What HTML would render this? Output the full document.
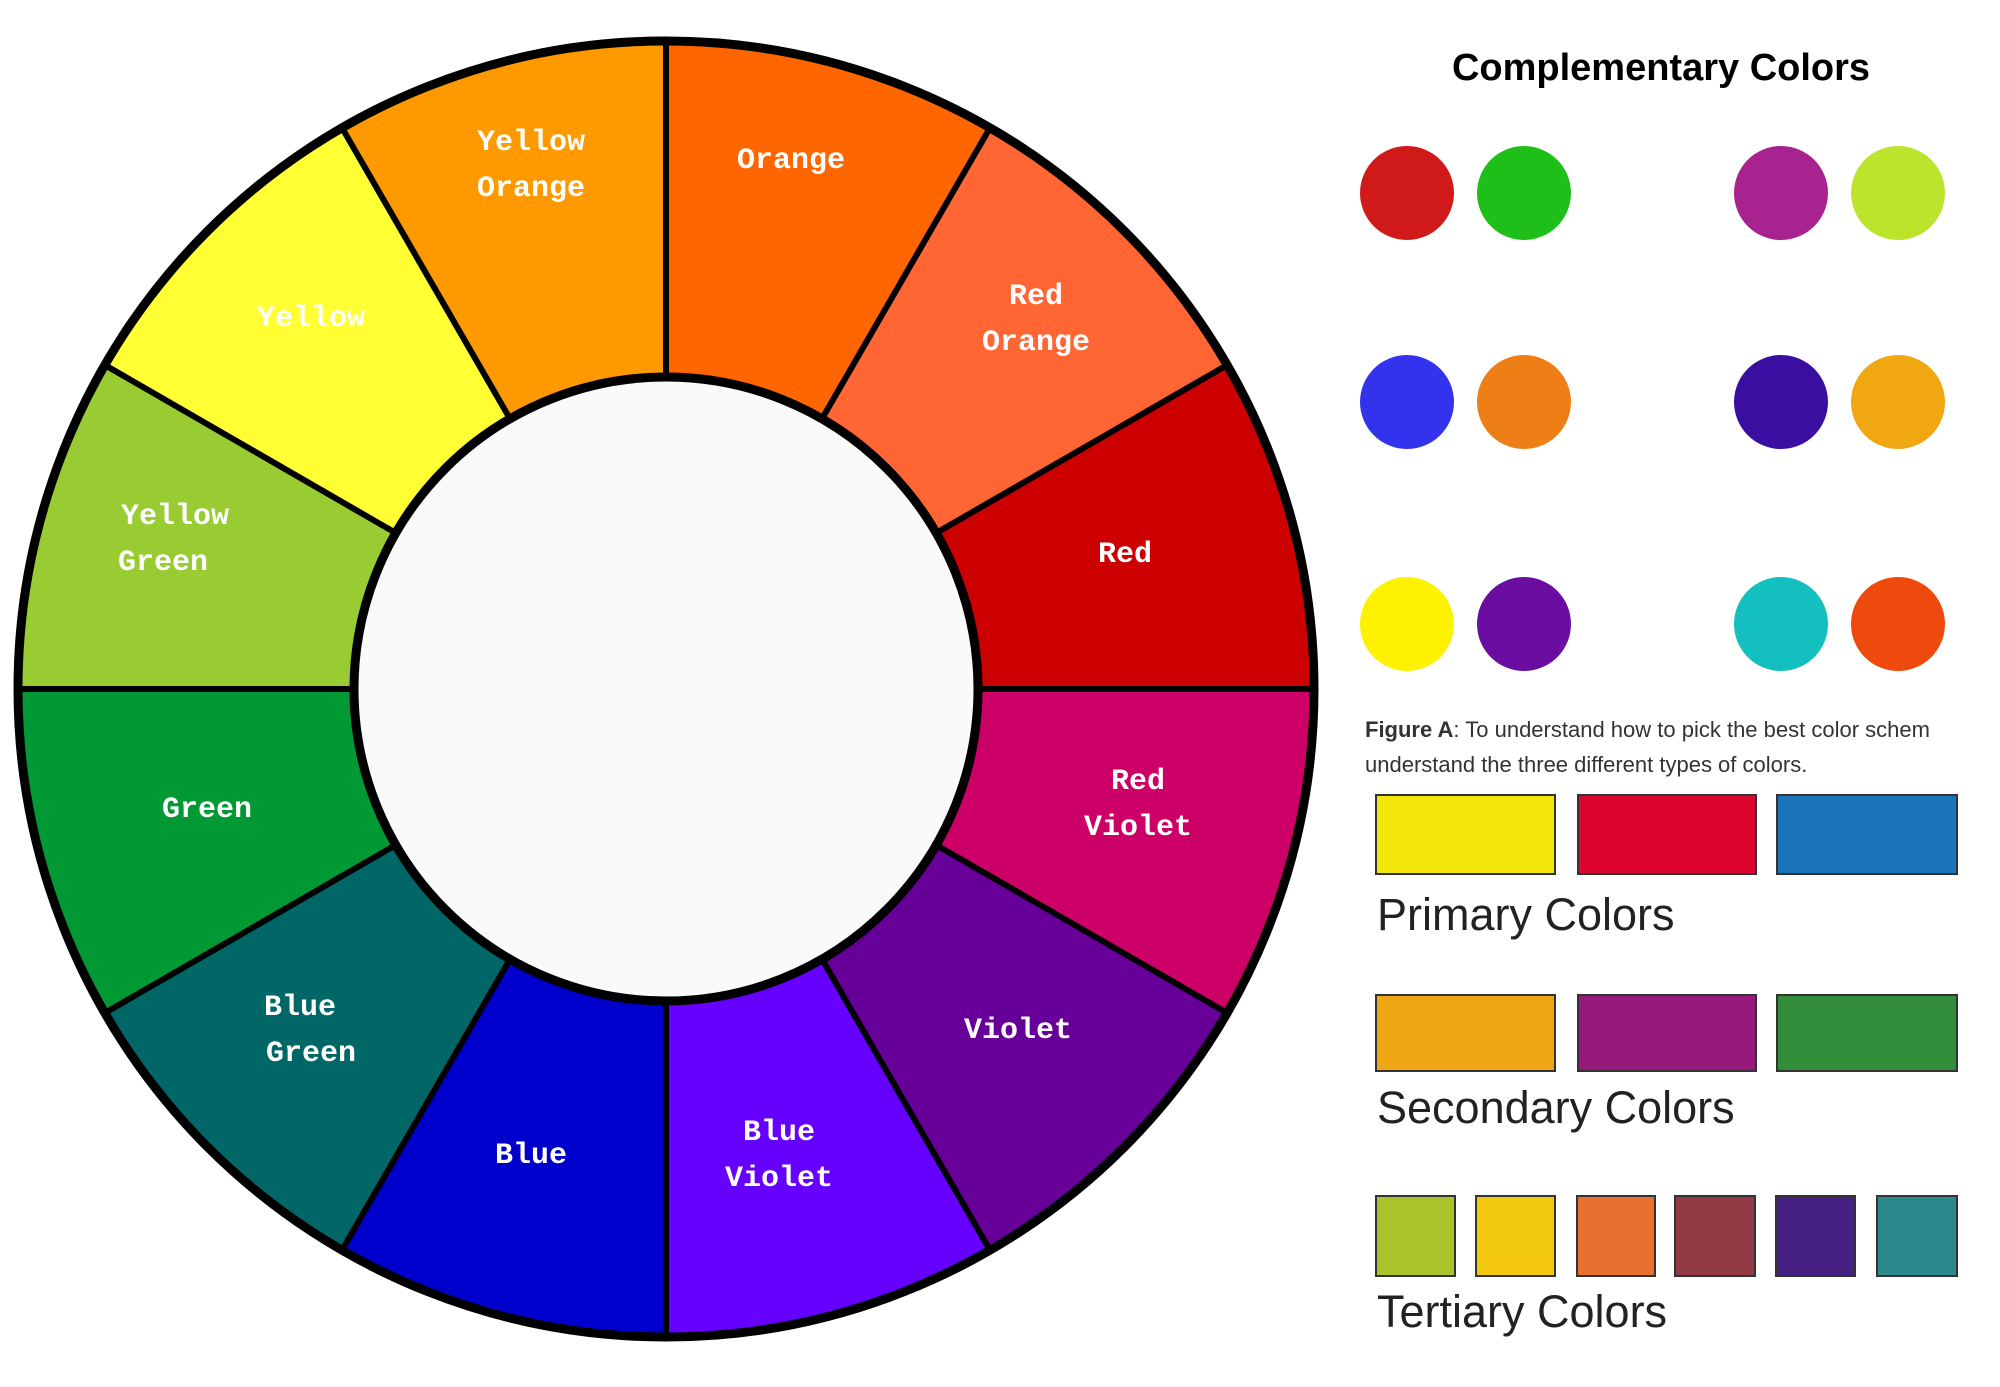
<!DOCTYPE html>
<html><head><meta charset="utf-8"><style>
html,body{margin:0;padding:0;background:#fff;}
svg{display:block;}
</style></head><body>
<svg width="2000" height="1387" viewBox="0 0 2000 1387" xmlns="http://www.w3.org/2000/svg">
<g>
<path d="M666,41 A648,648 0 0 1 990,127.8 L822,418.8 A312,312 0 0 0 666,377 Z" fill="#FF6600"/>
<path d="M990,127.8 A648,648 0 0 1 1227.2,365 L936.2,533 A312,312 0 0 0 822,418.8 Z" fill="#FF6633"/>
<path d="M1227.2,365 A648,648 0 0 1 1314,689 L978,689 A312,312 0 0 0 936.2,533 Z" fill="#CC0000"/>
<path d="M1314,689 A648,648 0 0 1 1227.2,1013 L936.2,845 A312,312 0 0 0 978,689 Z" fill="#CC0066"/>
<path d="M1227.2,1013 A648,648 0 0 1 990,1250.2 L822,959.2 A312,312 0 0 0 936.2,845 Z" fill="#660099"/>
<path d="M990,1250.2 A648,648 0 0 1 666,1337 L666,1001 A312,312 0 0 0 822,959.2 Z" fill="#6600FF"/>
<path d="M666,1337 A648,648 0 0 1 342,1250.2 L510,959.2 A312,312 0 0 0 666,1001 Z" fill="#0000CC"/>
<path d="M342,1250.2 A648,648 0 0 1 104.8,1013 L395.8,845 A312,312 0 0 0 510,959.2 Z" fill="#006666"/>
<path d="M104.8,1013 A648,648 0 0 1 18,689 L354,689 A312,312 0 0 0 395.8,845 Z" fill="#009933"/>
<path d="M18,689 A648,648 0 0 1 104.8,365 L395.8,533 A312,312 0 0 0 354,689 Z" fill="#99CC33"/>
<path d="M104.8,365 A648,648 0 0 1 342,127.8 L510,418.8 A312,312 0 0 0 395.8,533 Z" fill="#FFFF33"/>
<path d="M342,127.8 A648,648 0 0 1 666,41 L666,377 A312,312 0 0 0 510,418.8 Z" fill="#FF9900"/>
<g stroke="#000" stroke-width="6">
<line x1="666" y1="41" x2="666" y2="377"/>
<line x1="990" y1="127.8" x2="822" y2="418.8"/>
<line x1="1227.2" y1="365" x2="936.2" y2="533"/>
<line x1="1314" y1="689" x2="978" y2="689"/>
<line x1="1227.2" y1="1013" x2="936.2" y2="845"/>
<line x1="990" y1="1250.2" x2="822" y2="959.2"/>
<line x1="666" y1="1337" x2="666" y2="1001"/>
<line x1="342" y1="1250.2" x2="510" y2="959.2"/>
<line x1="104.8" y1="1013" x2="395.8" y2="845"/>
<line x1="18" y1="689" x2="354" y2="689"/>
<line x1="104.8" y1="365" x2="395.8" y2="533"/>
<line x1="342" y1="127.8" x2="510" y2="418.8"/>
</g>
<circle cx="666" cy="689" r="648" fill="none" stroke="#000" stroke-width="9"/>
<circle cx="666" cy="689" r="312" fill="#fafafa" stroke="#000" stroke-width="9"/>
</g>
<g font-family="Liberation Mono, monospace" font-weight="bold" font-size="30" fill="#fff" text-anchor="middle">
<text x="531" y="150">Yellow</text><text x="531" y="196">Orange</text>
<text x="791" y="168">Orange</text>
<text x="1036" y="304">Red</text><text x="1036" y="350">Orange</text>
<text x="1125" y="562">Red</text>
<text x="1138" y="789">Red</text><text x="1138" y="835">Violet</text>
<text x="1018" y="1038">Violet</text>
<text x="779" y="1140">Blue</text><text x="779" y="1186">Violet</text>
<text x="531" y="1163">Blue</text>
<text x="300" y="1015">Blue</text><text x="311" y="1061">Green</text>
<text x="207" y="817">Green</text>
<text x="175" y="524">Yellow</text><text x="163" y="570">Green</text>
<text x="311" y="326">Yellow</text>
</g>
<g font-family="Liberation Sans, sans-serif">
<text x="1661" y="80" font-size="38" font-weight="bold" text-anchor="middle">Complementary Colors</text>
<circle cx="1407" cy="193" r="47" fill="#D01A1A"/><circle cx="1524" cy="193" r="47" fill="#1FBF1A"/>
<circle cx="1781" cy="193" r="47" fill="#A8238F"/><circle cx="1898" cy="193" r="47" fill="#BCE42C"/>
<circle cx="1407" cy="402" r="47" fill="#3333EE"/><circle cx="1524" cy="402" r="47" fill="#EE7E16"/>
<circle cx="1781" cy="402" r="47" fill="#3A0EA0"/><circle cx="1898" cy="402" r="47" fill="#F0A712"/>
<circle cx="1407" cy="624" r="47" fill="#FFF200"/><circle cx="1524" cy="624" r="47" fill="#6A0DA0"/>
<circle cx="1781" cy="624" r="47" fill="#14BFBF"/><circle cx="1898" cy="624" r="47" fill="#EE4A0E"/>
<text x="1365" y="737" font-size="22" fill="#333"><tspan font-weight="bold">Figure A</tspan>: To understand how to pick the best color schem</text>
<text x="1365" y="772" font-size="22" fill="#333">understand the three different types of colors.</text>
<g stroke="#333" stroke-width="2">
<rect x="1376" y="795" width="179" height="79" fill="#F3E60B"/>
<rect x="1578" y="795" width="178" height="79" fill="#DC0530"/>
<rect x="1777" y="795" width="180" height="79" fill="#1A74BA"/>
<rect x="1376" y="995" width="179" height="76" fill="#EFA614"/>
<rect x="1578" y="995" width="178" height="76" fill="#961A7C"/>
<rect x="1777" y="995" width="180" height="76" fill="#328E3A"/>
<rect x="1376" y="1196" width="79" height="80" fill="#ABC22A"/>
<rect x="1476" y="1196" width="79" height="80" fill="#F3C90D"/>
<rect x="1577" y="1196" width="78" height="80" fill="#E8702E"/>
<rect x="1675" y="1196" width="80" height="80" fill="#923A45"/>
<rect x="1776" y="1196" width="79" height="80" fill="#462183"/>
<rect x="1877" y="1196" width="80" height="80" fill="#2C8A8C"/>
</g>
<text x="1377" y="930" font-size="45" fill="#222">Primary Colors</text>
<text x="1377" y="1123" font-size="45" fill="#222">Secondary Colors</text>
<text x="1377" y="1327" font-size="45" fill="#222">Tertiary Colors</text>
</g>
</svg>
</body></html>
